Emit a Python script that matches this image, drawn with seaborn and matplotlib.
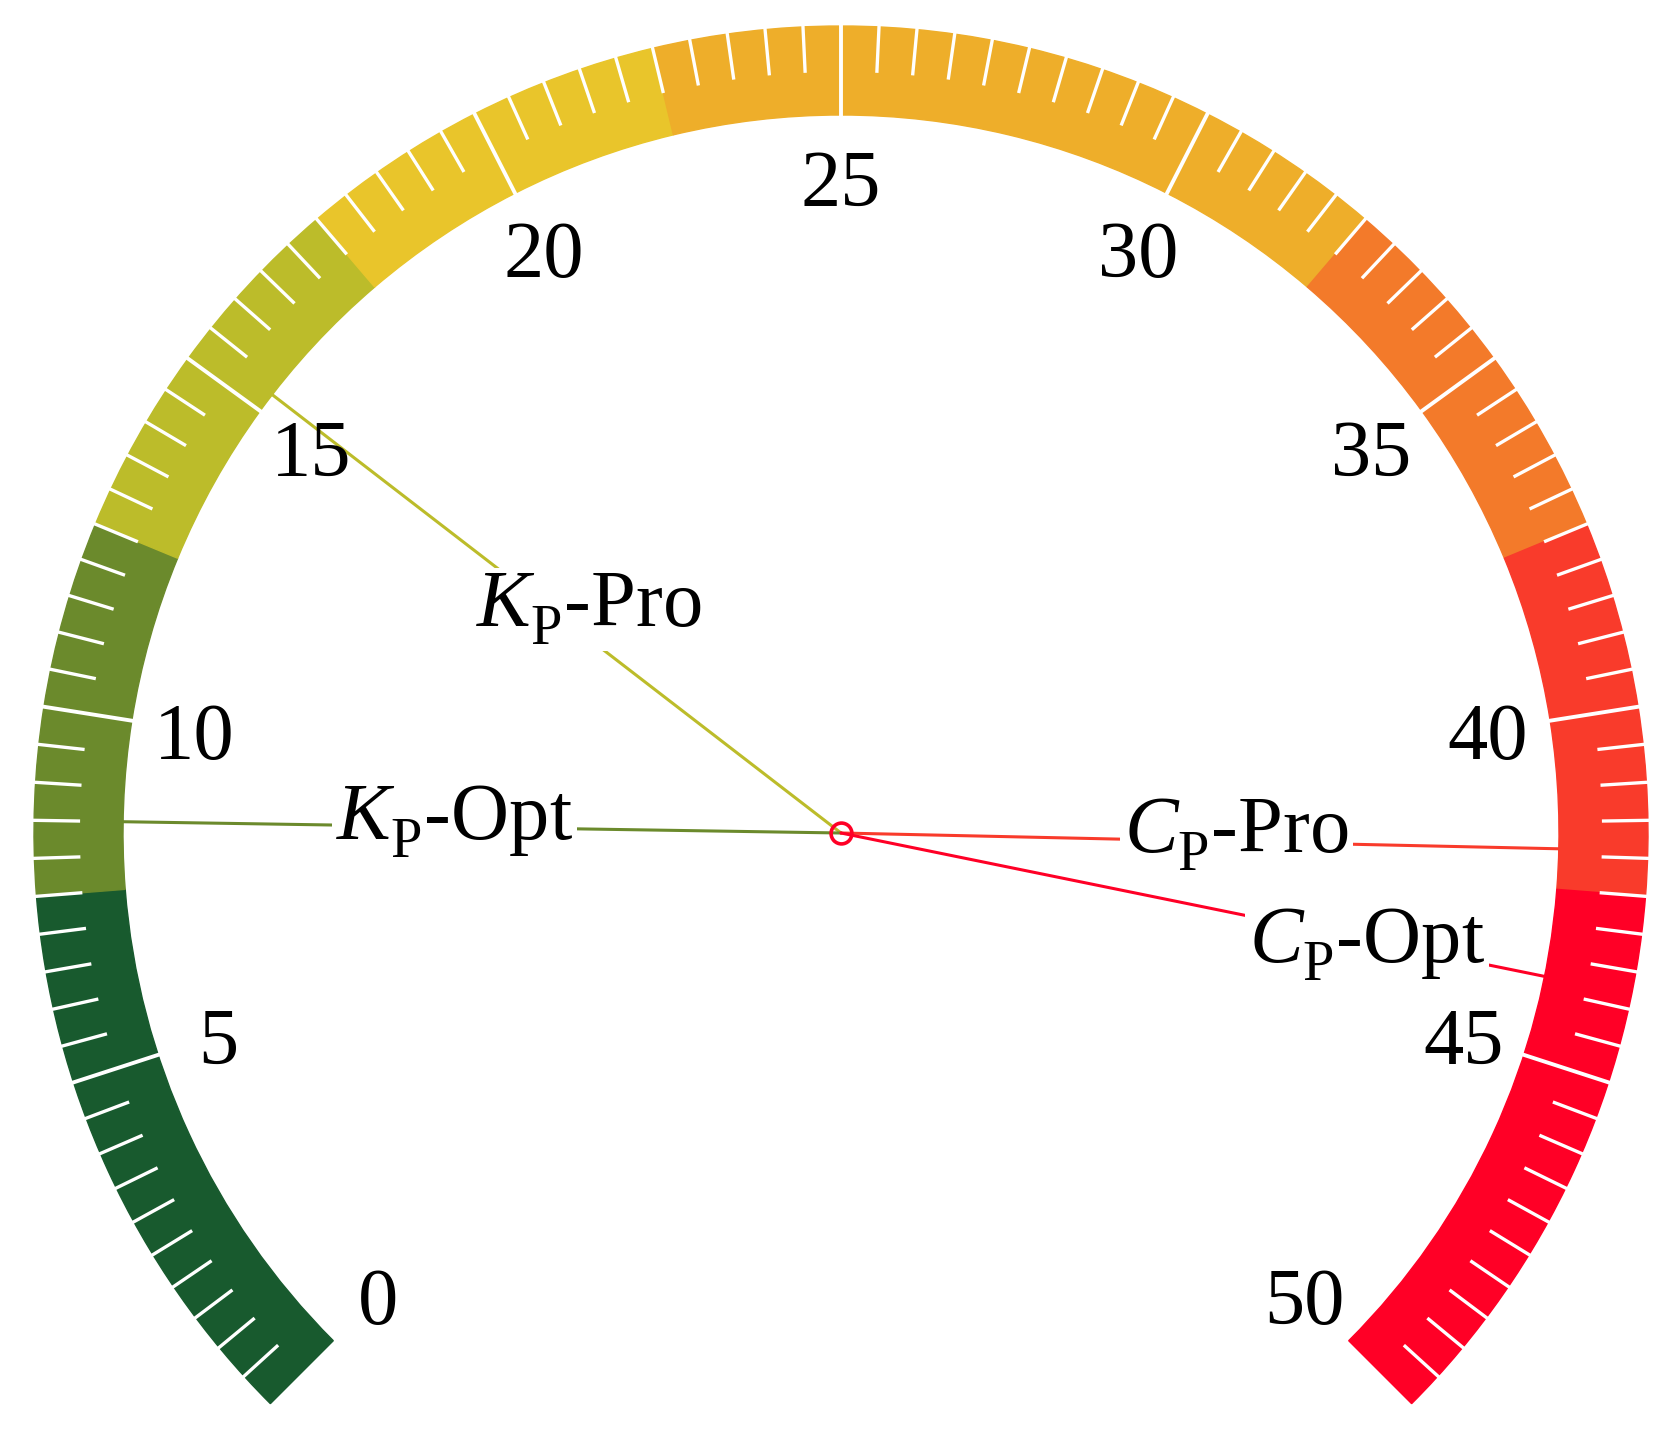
import numpy as np
import pandas as pd
import matplotlib
matplotlib.use("Agg")
import matplotlib.pyplot as plt
import seaborn as sns

# ---- data ----
band_edges = [0, 7.5, 12.5, 17.5, 22.5, 32.5, 37.5, 42.5, 50]
band_colors = ['#185a2e', '#6b8a2c', '#bcbc2a', '#e9c52b',
               '#eeae2a', '#f37a2a', '#f93b2b', '#ff0026']
major_ticks = [0, 5, 10, 15, 20, 25, 30, 35, 40, 45, 50]
minor_step = 0.5

# empty superscript pushes the subscript lower, like in the original figure
needle_names = [r'$K_{\mathrm{P}}^{}$-Pro', r'$K_{\mathrm{P}}^{}$-Opt',
                r'$C_{\mathrm{P}}^{}$-Pro', r'$C_{\mathrm{P}}^{}$-Opt']
needle_values = [15.3, 8.5, 41.9, 43.8]
needle_colors = ['#bcbc2a', '#6b8a2c', '#f93b2b', '#ff0026']

# where the needle captions sit (value along the dial, radius)
label_at_value = [15.6, 8.15, 42.18, 44.22]
label_at_radius = [326, 387, 396, 542]

# ---- geometry (radius in pixels of the final image) ----
VMAX = 50
SWEEP = 270.0
R_IN, R_OUT = 718, 807
R_TXT = 655
RMAX = 830
W, H = 1675, 1440
CX, CY = 841, 1440 - 833


def to_theta(v):
    return np.deg2rad(np.asarray(v, dtype=float) * SWEEP / VMAX)


sns.set_theme(style="white")
plt.rcParams['font.family'] = ['Liberation Serif', 'DejaVu Serif']
plt.rcParams['mathtext.fontset'] = 'custom'
plt.rcParams['mathtext.rm'] = 'Liberation Serif'
plt.rcParams['mathtext.it'] = 'Liberation Serif:italic'

fig = plt.figure(figsize=(W / 100, H / 100), dpi=100)
fig.patch.set_facecolor('white')
ax = fig.add_axes([(CX - RMAX) / W, (CY - RMAX) / H, 2 * RMAX / W, 2 * RMAX / H],
                  projection='polar')
ax.set_theta_offset(np.deg2rad(225))
ax.set_theta_direction(-1)
ax.set_rlim(0, RMAX)
ax.set_axis_off()

# colour bands
lo = np.array(band_edges[:-1])
hi = np.array(band_edges[1:])
ax.bar(to_theta((lo + hi) / 2), R_OUT - R_IN, width=to_theta(hi - lo), bottom=R_IN,
       color=band_colors, edgecolor=band_colors, linewidth=1, align='center', zorder=1)

# white tick marks
all_ticks = np.arange(minor_step, VMAX, minor_step)
minor = [t for t in all_ticks if t % 5 != 0]
major = [t for t in major_ticks if 0 < t < VMAX]
ax.vlines(to_theta(minor), R_OUT - 46, R_OUT + 2, colors='white', linewidth=2.4, zorder=2)
ax.vlines(to_theta(major), R_IN - 2, R_OUT + 2, colors='white', linewidth=2.8, zorder=2)

# tick labels
for t in major_ticks:
    ax.text(to_theta(t), R_TXT, str(t), ha='center', va='center_baseline',
            fontsize=58, color='black', zorder=5)

# needles
df = pd.DataFrame({
    'name': np.repeat(needle_names, 2),
    'theta': np.repeat(to_theta(needle_values), 2),
    'r': [0, R_IN] * len(needle_names),
})
sns.lineplot(data=df, x='theta', y='r', hue='name', palette=dict(zip(needle_names, needle_colors)),
             estimator=None, sort=False, legend=False, linewidth=2.2, ax=ax, zorder=3)
ax.set_xlabel('')
ax.set_ylabel('')

for name, v, r in zip(needle_names, label_at_value, label_at_radius):
    ax.text(to_theta(v), r, name, ha='center', va='baseline', fontsize=58, color='black',
            zorder=6, bbox=dict(boxstyle='square,pad=0.05', facecolor='white', edgecolor='none'))

# hub
ax.plot([0], [0], marker='o', markersize=15, markerfacecolor='none',
        markeredgecolor='#ff0026', markeredgewidth=2.6, zorder=7, clip_on=False)

fig.savefig('out.png', dpi=100, facecolor='white')
